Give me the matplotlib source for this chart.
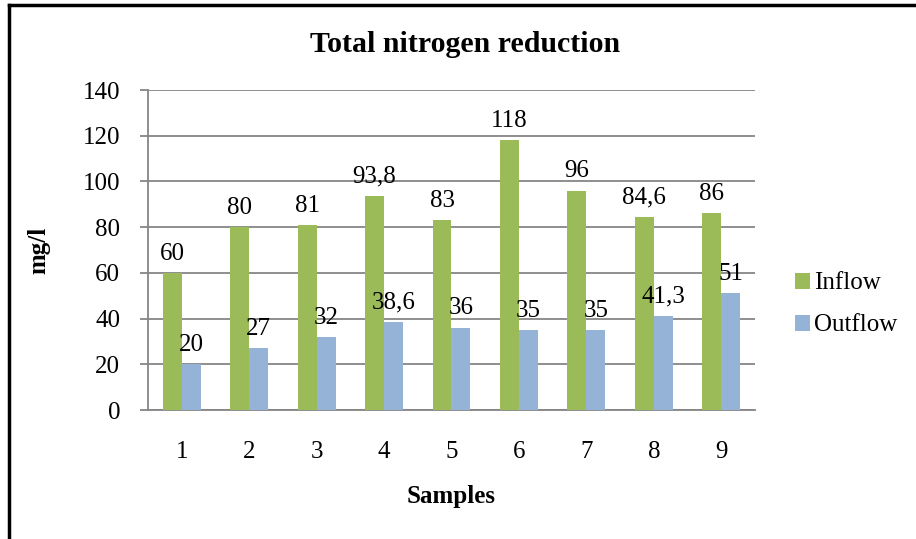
import matplotlib.pyplot as plt
from matplotlib.lines import Line2D
import numpy as np

samples = ['1', '2', '3', '4', '5', '6', '7', '8', '9']
inflow = [60, 80, 81, 93.8, 83, 118, 96, 84.6, 86]
outflow = [20, 27, 32, 38.6, 36, 35, 35, 41.3, 51]
inflow_labels = ['60', '80', '81', '93,8', '83', '118', '96', '84,6', '86']
outflow_labels = ['20', '27', '32', '38,6', '36', '35', '35', '41,3', '51']

plt.rcParams['font.family'] = ['Liberation Serif', 'DejaVu Serif']

green = '#9BBB59'
blue = '#95B3D7'
grid_col = '#868686'

fig = plt.figure(figsize=(9.16, 5.39), dpi=100)
ax = fig.add_axes([0.1616, 0.2393, 0.6626, 0.5937])

x = np.arange(len(samples))
w = 0.28
ax.bar(x - w / 2, inflow, w, color=green, label='Inflow', zorder=3)
ax.bar(x + w / 2, outflow, w, color=blue, label='Outflow', zorder=3)

for i in range(len(samples)):
    ax.annotate(inflow_labels[i], (x[i] - w / 2, inflow[i]), xytext=(0, 6),
                textcoords='offset points', ha='center', va='bottom', fontsize=18)
    ax.annotate(outflow_labels[i], (x[i] + w / 2, outflow[i]), xytext=(0, 6),
                textcoords='offset points', ha='center', va='bottom', fontsize=18)

ax.set_xlim(-0.5, len(samples) - 0.5)
ax.set_ylim(0, 140)
ax.set_yticks(range(0, 141, 20))
ax.set_xticks(x)
ax.set_xticklabels(samples)
ax.yaxis.grid(True, color=grid_col, linewidth=1.3, zorder=0)
ax.set_axisbelow(True)
for s in ['top', 'right']:
    ax.spines[s].set_visible(False)
for s in ['left', 'bottom']:
    ax.spines[s].set_color(grid_col)
    ax.spines[s].set_linewidth(1.3)
ax.tick_params(axis='y', labelsize=18, length=6, color=grid_col, width=1.3, pad=14)
ax.tick_params(axis='x', labelsize=18, length=0, pad=22)

ax.set_xlabel('Samples', fontsize=18, fontweight='bold', labelpad=16)
ax.set_ylabel('mg/l', fontsize=18, fontweight='bold', labelpad=23)
fig.text(0.508, 0.918, 'Total nitrogen reduction', ha='center', va='center',
         fontsize=21.5, fontweight='bold')

ax.legend(loc='center left', bbox_to_anchor=(1.05, 0.33), frameon=False,
          fontsize=18, handlelength=0.6, handleheight=0.6, handletextpad=0.15,
          labelspacing=0.8, borderaxespad=0)

# frame lines at top and left of the picture
fig.add_artist(Line2D([0.0098, 0.0098], [0, 0.99], color='black', linewidth=2.5,
                      transform=fig.transFigure))
fig.add_artist(Line2D([0.0098, 1.0], [0.99, 0.99], color='black', linewidth=2.5,
                      transform=fig.transFigure))

fig.savefig('out.png', dpi=100)
